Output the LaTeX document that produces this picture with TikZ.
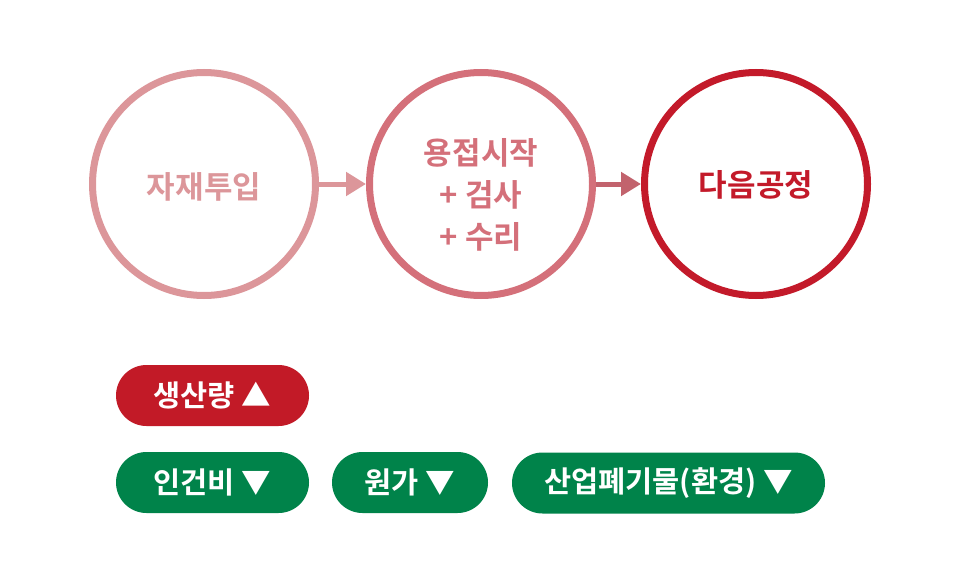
\documentclass[tikz,border=0pt]{standalone}
\usepackage{fontspec}
\setmainfont{Noto Sans CJK KR}[BoldFont={* Bold}]
\newfontfamily\kr{Noto Sans CJK KR Bold}
\usetikzlibrary{arrows.meta}
\definecolor{cA}{HTML}{DC969A}
\definecolor{cB}{HTML}{D4707A}
\definecolor{cC}{HTML}{C31A2A}
\definecolor{arB}{HTML}{C2636D}
\definecolor{pRed}{HTML}{C21A27}
\definecolor{pGreen}{HTML}{00834A}
\begin{document}
\begin{tikzpicture}[x=1pt,y=-1pt,
  stage/.style={circle,draw=#1,line width=7pt,minimum size=223pt,inner sep=0pt},
  label/.style={text=#1,font=\kr\fontsize{31}{42}\selectfont,align=center},
  pill/.style={rounded corners=30.5pt,fill=#1,text=white,font=\kr\fontsize{29.5}{30}\selectfont,minimum height=61pt,inner sep=0pt},
  conn/.style={draw=#1,line width=5pt,-{Triangle[length=20pt,width=23pt,fill=#1]}}]
\path[use as bounding box] (0,0) rectangle (963,583);
\node[stage=cA] (s1) at (204,184) {};
\node[stage=cB] (s2) at (481,184) {};
\node[stage=cC] (s3) at (756,184) {};
\node[label=cA] (t1) at (204,187) {자재투입};
\node[label=cB] (t2) at (481,195) {용접시작\\+ 검사\\+ 수리};
\node[label=cC] (t3) at (756,185) {다음공정};
\draw[conn=cA] (s1.east) -- (s2.west);
\draw[conn=arB] (s2.east) -- (s3.west);
\node[pill=pRed,minimum width=193pt] (p1) at (212.5,395.5) {생산량 ▲};
\node[pill=pGreen,minimum width=193pt] (p2) at (212.5,482.5) {인건비 ▼};
\node[pill=pGreen,minimum width=156pt] (p3) at (410,482.5) {원가 ▼};
\node[pill=pGreen,minimum width=313pt] (p4) at (668.5,483) {산업폐기물(환경) ▼};
\end{tikzpicture}
\end{document}
